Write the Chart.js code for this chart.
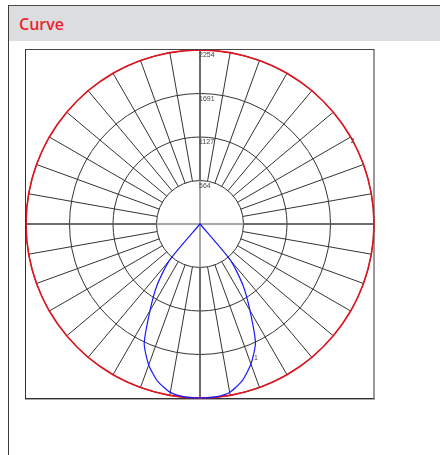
<!DOCTYPE html>
<html>
<head>
<meta charset="utf-8">
<script src="https://cdn.jsdelivr.net/npm/chart.js@4.4.0/dist/chart.umd.min.js"></script>
<style>
  body { margin: 0; width: 440px; height: 455px; overflow: hidden; position: relative; background: #fff; font-family: "Open Sans", sans-serif; }
  #panel { position: absolute; left: 8px; top: 5px; width: 440px; height: 460px; border-left: 1px solid #3a3a3a; border-top: 1px solid #4a4a4a; }
  #head { position: absolute; left: 9px; top: 6px; width: 431px; height: 35px; background: #dcdddf; }
  #title { position: absolute; left: 19px; top: 14px; line-height: 20px; font-size: 16px; font-weight: 600; color: #ee1f30; }
  #frame { position: absolute; left: 25px; top: 49px; width: 347px; height: 348px; border-left: 1px solid #333; border-top: 1px solid #444; border-right: 2px solid #999; border-bottom: 1px solid #333; box-shadow: 0 1px 0 #aaa; }
  #wrap { position: absolute; left: 26px; top: 50px; width: 349px; height: 349px; }
</style>
</head>
<body>
<div id="panel"></div>
<div id="head"></div>
<div id="title">Curve</div>
<div id="frame"></div>
<div id="wrap"><canvas id="curve" width="349" height="349"></canvas></div>
<script>
// gamma angles, 5 degree steps, clockwise starting at the nadir
const angles = [
  0, 5, 10, 15, 20, 25, 30, 35, 40, 45, 50, 55,
  60, 65, 70, 75, 80, 85, 90, 95, 100, 105, 110, 115,
  120, 125, 130, 135, 140, 145, 150, 155, 160, 165, 170, 175,
  180, 185, 190, 195, 200, 205, 210, 215, 220, 225, 230, 235,
  240, 245, 250, 255, 260, 265, 270, 275, 280, 285, 290, 295,
  300, 305, 310, 315, 320, 325, 330, 335, 340, 345, 350, 355
];

// curve 1 (blue)
const curve1 = [
  2254, 2248, 2215, 2112, 1943, 1710, 1295, 972, 622, 0, 0, 0,
  0, 0, 0, 0, 0, 0, 0, 0, 0, 0, 0, 0,
  0, 0, 0, 0, 0, 0, 0, 0, 0, 0, 0, 0,
  0, 0, 0, 0, 0, 0, 0, 0, 0, 0, 0, 0,
  0, 0, 0, 0, 0, 0, 0, 0, 0, 0, 0, 0,
  0, 0, 0, 0, 622, 972, 1295, 1700, 1930, 2105, 2215, 2248
];

// curve 2 (red)
const curve2 = [
  2254, 2254, 2254, 2254, 2254, 2254, 2254, 2254, 2254, 2254, 2254, 2254,
  2254, 2254, 2254, 2254, 2254, 2254, 2254, 2254, 2254, 2254, 2254, 2254,
  2254, 2254, 2254, 2254, 2254, 2254, 2254, 2254, 2254, 2254, 2254, 2254,
  2254, 2254, 2254, 2254, 2254, 2254, 2254, 2254, 2254, 2254, 2254, 2254,
  2254, 2254, 2254, 2254, 2254, 2254, 2254, 2254, 2254, 2254, 2254, 2254,
  2254, 2254, 2254, 2254, 2254, 2254, 2254, 2254, 2254, 2254, 2254, 2254
];

const tickValues = [0, 563.5, 1127, 1690.5, 2254];
const tickLabels = ['', '564', '1127', '1691', '2254'];

// where the curve names sit (index into angles)
const curveNames = ['1', '2'];
const nameIndex = [68, 48];

const smallFont = '7px "Liberation Sans", Arial, sans-serif';

const polarGrid = {
  id: 'polarGrid',
  beforeDatasetsDraw(chart) {
    const r = chart.scales.r;
    const ctx = chart.ctx;
    ctx.save();
    // main axes through the centre
    ctx.strokeStyle = '#8a8a8a';
    ctx.lineWidth = 1.5;
    ctx.beginPath();
    ctx.moveTo(0, r.yCenter);
    ctx.lineTo(chart.width, r.yCenter);
    ctx.moveTo(r.xCenter, 0);
    ctx.lineTo(r.xCenter, chart.height);
    ctx.stroke();
    // spokes every 10 degrees, outside the first ring
    ctx.strokeStyle = '#333';
    ctx.lineWidth = 1;
    ctx.beginPath();
    for (let i = 0; i < angles.length; i += 2) {
      const a = r.getPointPositionForValue(i, tickValues[1]);
      const b = r.getPointPositionForValue(i, r.max);
      ctx.moveTo(a.x, a.y);
      ctx.lineTo(b.x, b.y);
    }
    ctx.stroke();
    ctx.restore();
  },
  afterDraw(chart) {
    const r = chart.scales.r;
    const ctx = chart.ctx;
    ctx.save();
    ctx.font = smallFont;
    ctx.fillStyle = '#444';
    ctx.textAlign = 'left';
    ctx.textBaseline = 'top';
    tickValues.forEach((v, i) => {
      if (!tickLabels[i]) return;
      const y = r.yCenter - r.getDistanceFromCenterForValue(v);
      ctx.fillText(tickLabels[i], r.xCenter - 1, y + 2);
    });
    ctx.textBaseline = 'middle';
    curveNames.forEach((name, d) => {
      const pt = chart.getDatasetMeta(d).data[nameIndex[d]];
      if (d === 0) ctx.fillText(name, pt.x + 3, pt.y - 6);
      else ctx.fillText(name, pt.x + 0, pt.y + 4);
    });
    ctx.restore();
  }
};

new Chart(document.getElementById('curve'), {
  type: 'radar',
  data: {
    labels: angles,
    datasets: [
      { label: '1', data: curve1, borderColor: '#1a1aff', borderWidth: 1.2, fill: false, tension: 0.2 },
      { label: '2', data: curve2, borderColor: '#e0141e', borderWidth: 1.6, fill: false }
    ]
  },
  options: {
    responsive: false,
    animation: false,
    layout: { padding: 0 },
    elements: { point: { radius: 0 }, line: { tension: 0 } },
    plugins: { legend: { display: false }, tooltip: { enabled: false } },
    scales: {
      r: {
        startAngle: 180,
        min: 0,
        max: 2254,
        afterBuildTicks: s => { s.ticks = tickValues.map(v => ({ value: v })); },
        ticks: { display: false },
        grid: { circular: true, color: '#333', lineWidth: 1 },
        angleLines: { display: false },
        pointLabels: { display: false }
      }
    }
  },
  plugins: [polarGrid]
});
</script>
</body>
</html>
